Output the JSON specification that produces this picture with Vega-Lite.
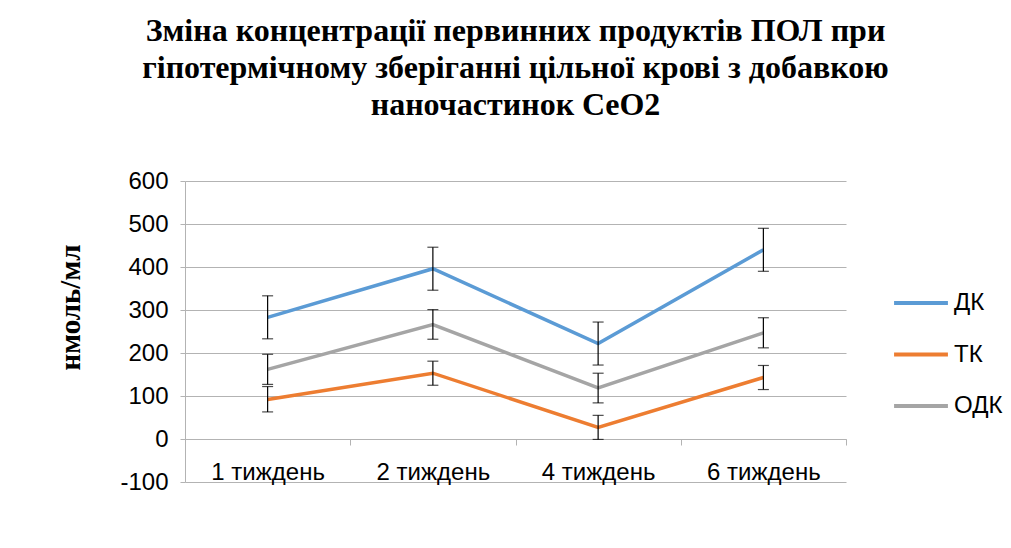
{
  "$schema": "https://vega.github.io/schema/vega-lite/v6.json",
  "width": 661,
  "height": 301,
  "autosize": {"type": "none"},
  "padding": {"left": 185, "top": 181, "right": 165, "bottom": 66},
  "background": "white",
  "title": {
    "text": ["Зміна концентрації первинних продуктів ПОЛ при", "гіпотермічному зберіганні цільної крові з добавкою", "наночастинок CeO2"],
    "font": "Liberation Serif",
    "fontSize": 32,
    "fontWeight": "bold",
    "color": "black",
    "lineHeight": 37,
    "anchor": "middle",
    "baseline": "alphabetic",
    "offset": 22
  },
  "data": {
    "values": [
      {"week": "1 тиждень", "series": "ДК", "value": 283, "lo": 233, "hi": 333},
      {"week": "2 тиждень", "series": "ДК", "value": 396, "lo": 346, "hi": 446},
      {"week": "4 тиждень", "series": "ДК", "value": 222, "lo": 172, "hi": 272},
      {"week": "6 тиждень", "series": "ДК", "value": 440, "lo": 390, "hi": 490},
      {"week": "1 тиждень", "series": "ТК", "value": 92, "lo": 63, "hi": 122},
      {"week": "2 тиждень", "series": "ТК", "value": 153, "lo": 125, "hi": 181},
      {"week": "4 тиждень", "series": "ТК", "value": 27, "lo": -1, "hi": 55},
      {"week": "6 тиждень", "series": "ТК", "value": 143, "lo": 115, "hi": 171},
      {"week": "1 тиждень", "series": "ОДК", "value": 162, "lo": 127, "hi": 197},
      {"week": "2 тиждень", "series": "ОДК", "value": 266, "lo": 232, "hi": 301},
      {"week": "4 тиждень", "series": "ОДК", "value": 119, "lo": 84, "hi": 153},
      {"week": "6 тиждень", "series": "ОДК", "value": 247, "lo": 212, "hi": 282}
    ]
  },
  "encoding": {
    "x": {
      "field": "week",
      "type": "nominal",
      "sort": ["1 тиждень", "2 тиждень", "4 тиждень", "6 тиждень"],
      "scale": {"type": "band", "paddingInner": 0, "paddingOuter": 0},
      "axis": {
        "title": null,
        "labelAngle": 0,
        "grid": false,
        "domainColor": "#b3b3b3",
        "tickColor": "#b3b3b3",
        "tickBand": "extent",
        "tickSize": 6,
        "offset": -43,
        "labelPadding": 15,
        "labelFont": "Liberation Sans",
        "labelFontSize": 24,
        "labelColor": "black"
      }
    }
  },
  "layer": [
    {
      "mark": {"type": "line", "strokeWidth": 3.5},
      "encoding": {
        "y": {
          "field": "value",
          "type": "quantitative",
          "scale": {"domain": [-100, 600], "nice": false, "zero": false},
          "axis": {
            "values": [-100, 0, 100, 200, 300, 400, 500, 600],
            "labelExpr": "toString(datum.value)",
            "title": "нмоль/мл",
            "titleFont": "Liberation Serif",
            "titleFontSize": 29,
            "titleFontWeight": "bold",
            "titleColor": "black",
            "titleAngle": -90,
            "titleX": -115,
            "titleY": 126,
            "titleAlign": "center",
            "titleBaseline": "middle",
            "grid": true,
            "gridColor": "#b3b3b3",
            "domainColor": "#b3b3b3",
            "tickColor": "#b3b3b3",
            "tickSize": 5,
            "labelPadding": 12,
            "labelFont": "Liberation Sans",
            "labelFontSize": 24,
            "labelColor": "black"
          }
        },
        "color": {
          "field": "series",
          "type": "nominal",
          "scale": {"domain": ["ДК", "ТК", "ОДК"], "range": ["#5B9BD5", "#ED7D31", "#A5A5A5"]},
          "legend": {
            "title": null,
            "orient": "none",
            "legendX": 707,
            "legendY": 112,
            "padding": 0,
            "symbolType": "stroke",
            "symbolSize": 2900,
            "symbolStrokeWidth": 4,
            "clipHeight": 20,
            "rowPadding": 27.5,
            "labelOffset": 4,
            "labelFont": "Liberation Sans",
            "labelFontSize": 24,
            "labelColor": "black"
          }
        }
      }
    },
    {
      "mark": {"type": "rule", "color": "black", "strokeWidth": 1.2},
      "encoding": {
        "y": {"field": "lo", "type": "quantitative"},
        "y2": {"field": "hi"},
        "detail": {"field": "series"}
      }
    },
    {
      "mark": {"type": "tick", "color": "black", "size": 11, "thickness": 1.2},
      "encoding": {
        "y": {"field": "lo", "type": "quantitative"},
        "detail": {"field": "series"}
      }
    },
    {
      "mark": {"type": "tick", "color": "black", "size": 11, "thickness": 1.2},
      "encoding": {
        "y": {"field": "hi", "type": "quantitative"},
        "detail": {"field": "series"}
      }
    }
  ],
  "config": {
    "view": {"stroke": null}
  }
}
